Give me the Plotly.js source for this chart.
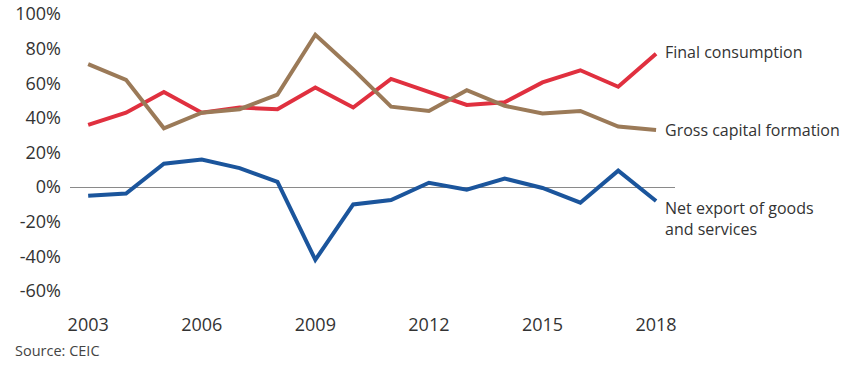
<!DOCTYPE html>
<html>
<head>
<meta charset="utf-8">
<script src="https://cdn.plot.ly/plotly-3.0.1.min.js"></script>
<style>html,body{margin:0;padding:0;background:#fff;}#chart{width:850px;height:375px;}</style>
</head>
<body>
<div id="chart"></div>
<script>
const years = [2003,2004,2005,2006,2007,2008,2009,2010,2011,2012,2013,2014,2015,2016,2017,2018];
const finalConsumption = [36,43,55,43,46,45,57.5,46,62.5,55,47.5,49,60.5,67.5,58,77];
const grossCapital = [71,62,34,43,45,53.5,88,68,46.5,44,56,47,42.5,44,35,33];
const netExport = [-5,-3.7,13.5,16,11,3,-42,-10,-7.5,2.5,-1.5,5,-0.5,-9,9.5,-8];
const seriesNames = ["Final consumption","Gross capital formation","Net export of goods<br>and services"];
const yTicks = [-60,-40,-20,0,20,40,60,80,100];
const yTickLabels = ["-60%","-40%","-20%","0%","20%","40%","60%","80%","100%"];
const xTicks = [2003,2006,2009,2012,2015,2018];
const source = "Source: CEIC";

const colors = ["#e0303f","#9b7a58","#1b559c"];
const font = "Open Sans, Noto Sans, sans-serif";

const series = [finalConsumption, grossCapital, netExport];
const traces = series.map((s,i)=>({
  x: years, y: s, type: "scatter", mode: "lines",
  line: {color: colors[i], width: 4}, hoverinfo: "skip"
}));

const labelShift = [2, 0, -18];
const annotations = series.map((s,i)=>({
  xref: "x", yref: "y", x: years[years.length-1], y: s[s.length-1],
  text: seriesNames[i], showarrow: false, xanchor: "left", yanchor: "middle",
  align: "left", xshift: 7, yshift: labelShift[i],
  font: {family: font, size: 16, color: "#333"}
}));
annotations.push({
  xref: "paper", yref: "paper", x: -0.095, y: -0.215, xanchor: "left", yanchor: "middle",
  text: source, showarrow: false, font: {family: font, size: 14.5, color: "#444"}
});

const layout = {
  width: 850, height: 375,
  margin: {l: 70, r: 175, t: 14, b: 84},
  paper_bgcolor: "#fff", plot_bgcolor: "#fff",
  showlegend: false,
  xaxis: {
    range: [2002.52, 2018.5], tickvals: xTicks, ticktext: xTicks.map(String),
    showgrid: false, zeroline: false, showline: false, ticks: "",
    ticklabelstandoff: 21,
    tickfont: {family: font, size: 18, color: "#333"}
  },
  yaxis: {
    range: [-60, 100], tickvals: yTicks, ticktext: yTickLabels,
    showgrid: false, zeroline: true, zerolinecolor: "#8a8a8a", zerolinewidth: 1,
    showline: false, ticks: "", ticklabelstandoff: 8,
    tickfont: {family: font, size: 18, color: "#333"}
  },
  annotations: annotations
};

Plotly.newPlot("chart", traces, layout, {staticPlot: true, displayModeBar: false});
</script>
</body>
</html>
